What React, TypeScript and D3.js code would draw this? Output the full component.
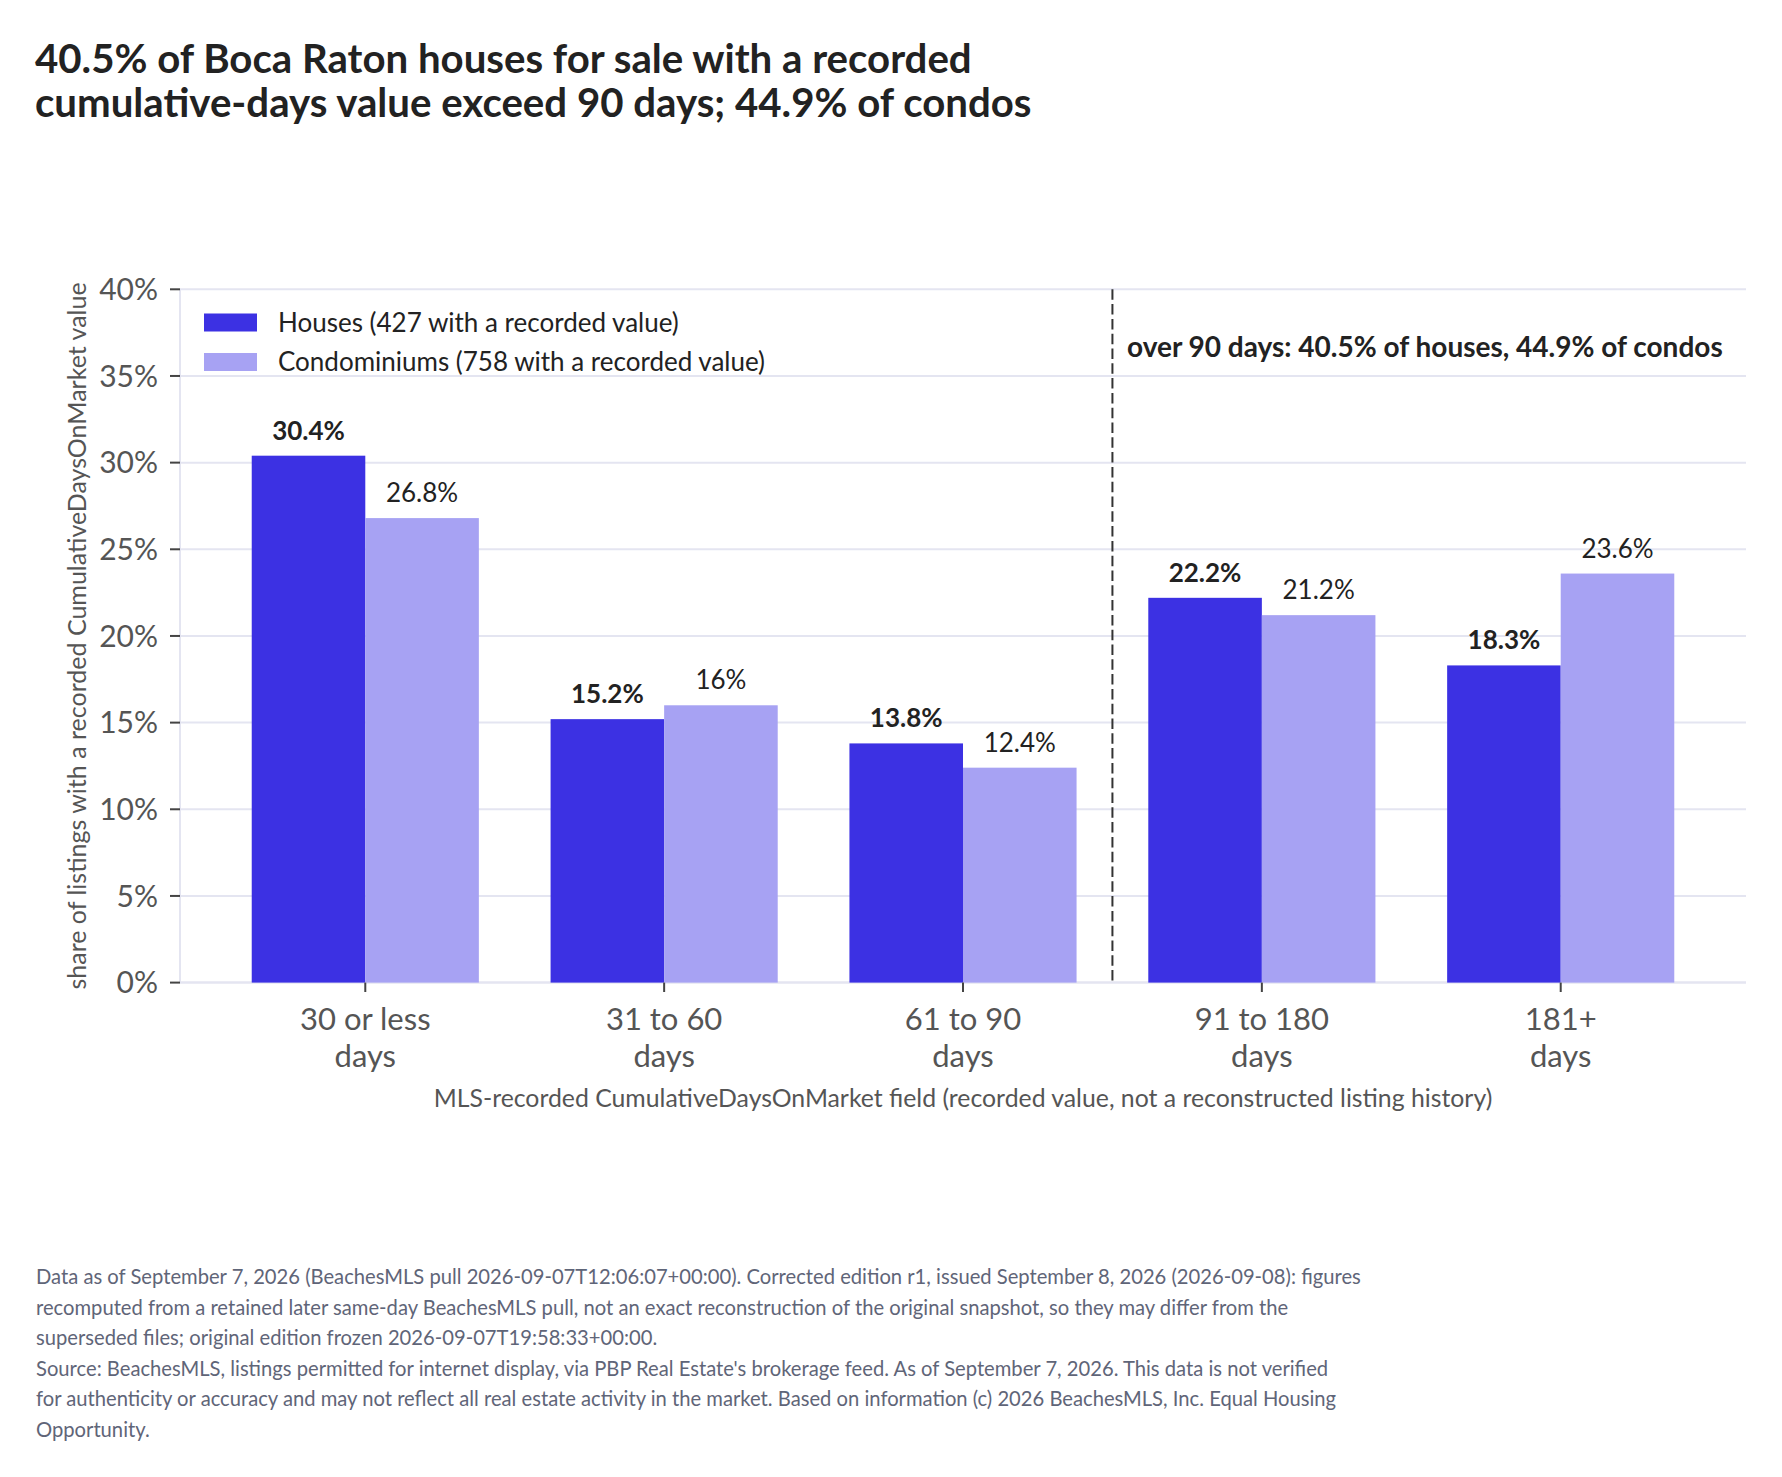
import React from "react";
import * as d3 from "d3";

const categories = ["30 or less\ndays", "31 to 60\ndays", "61 to 90\ndays", "91 to 180\ndays", "181+\ndays"];
const housesValues = [30.4, 15.2, 13.8, 22.2, 18.3];
const condosValues = [26.8, 16.0, 12.4, 21.2, 23.6];
const housesLabels = ["30.4%", "15.2%", "13.8%", "22.2%", "18.3%"];
const condosLabels = ["26.8%", "16%", "12.4%", "21.2%", "23.6%"];
const yTicks = [0, 5, 10, 15, 20, 25, 30, 35, 40];
const seriesNames = ["Houses (427 with a recorded value)", "Condominiums (758 with a recorded value)"];
const titleLines = [
  "40.5% of Boca Raton houses for sale with a recorded",
  "cumulative-days value exceed 90 days; 44.9% of condos",
];
const annotationText = "over 90 days: 40.5% of houses, 44.9% of condos";
const xAxisTitle = "MLS-recorded CumulativeDaysOnMarket field (recorded value, not a reconstructed listing history)";
const yAxisTitle = "share of listings with a recorded CumulativeDaysOnMarket value";
const footerLines = [
  "Data as of September 7, 2026 (BeachesMLS pull 2026-09-07T12:06:07+00:00). Corrected edition r1, issued September 8, 2026 (2026-09-08): figures",
  "recomputed from a retained later same-day BeachesMLS pull, not an exact reconstruction of the original snapshot, so they may differ from the",
  "superseded files; original edition frozen 2026-09-07T19:58:33+00:00.",
  "Source: BeachesMLS, listings permitted for internet display, via PBP Real Estate's brokerage feed. As of September 7, 2026. This data is not verified",
  "for authenticity or accuracy and may not reflect all real estate activity in the market. Based on information (c) 2026 BeachesMLS, Inc. Equal Housing",
  "Opportunity.",
];

const W = 1782;
const H = 1477;
const FONT = "Lato, 'Noto Sans', sans-serif";
const HOUSE = "#3c31e3";
const CONDO = "#a7a2f3";
const GRID = "#e4e5f1";

export default function App() {
  const left = 180;
  const right = 1746;
  const top = 289.3;
  const bottom = 982.6;
  const x = d3.scaleLinear().domain([-0.62, 4.62]).range([left, right]);
  const y = d3.scaleLinear().domain([0, 40]).range([bottom, top]);
  const step = x(1) - x(0);
  const barW = step * 0.38;
  const divider = (x(2) + x(3)) / 2;

  return (
    <svg width={W} height={H} viewBox={`0 0 ${W} ${H}`} style={{ display: "block", position: "absolute", left: 0, top: 0, background: "#fff" }} fontFamily={FONT}>
      <rect x={0} y={0} width={W} height={H} fill="#fff" />
      {/* title */}
      {titleLines.map((t, i) => (
        <text key={i} x={35} y={73 + i * 44} fontSize={40.2} fontWeight={700} fill="#222">{t}</text>
      ))}
      {/* grid */}
      {yTicks.map((t) => (
        <line key={t} x1={left} x2={right} y1={y(t)} y2={y(t)} stroke={GRID} strokeWidth={t === 0 ? 2.5 : 2} />
      ))}
      <line x1={left} x2={left} y1={top} y2={bottom} stroke={GRID} strokeWidth={2} />
      {/* y ticks */}
      {yTicks.map((t) => (
        <g key={t}>
          <line x1={170} x2={left} y1={y(t)} y2={y(t)} stroke="#444" strokeWidth={2} />
          <text x={158} y={y(t)} dy="0.36em" textAnchor="end" fontSize={30} fill="#555">{`${t}%`}</text>
        </g>
      ))}
      {/* bars */}
      {categories.map((c, i) => (
        <g key={c}>
          <rect x={x(i) - barW} y={y(housesValues[i])} width={barW} height={y(0) - y(housesValues[i])} fill={HOUSE} />
          <rect x={x(i)} y={y(condosValues[i])} width={barW} height={y(0) - y(condosValues[i])} fill={CONDO} />
          <text x={x(i) - barW / 2} y={y(housesValues[i]) - 16} textAnchor="middle" fontSize={26} fontWeight={700} fill="#222">{housesLabels[i]}</text>
          <text x={x(i) + barW / 2} y={y(condosValues[i]) - 16} textAnchor="middle" fontSize={26} fill="#222">{condosLabels[i]}</text>
        </g>
      ))}
      {/* x ticks */}
      {categories.map((c, i) => (
        <g key={c}>
          <line x1={x(i)} x2={x(i)} y1={bottom} y2={992} stroke="#444" strokeWidth={2} />
          {c.split("\n").map((l, j) => (
            <text key={j} x={x(i)} y={1030 + j * 36.5} textAnchor="middle" fontSize={31} fill="#555">{l}</text>
          ))}
        </g>
      ))}
      {/* divider */}
      <line x1={divider} x2={divider} y1={top} y2={bottom} stroke="#333" strokeWidth={2} strokeDasharray="10.5,4.3" />
      <text x={1127} y={357} fontSize={28} fontWeight={700} fill="#222">{annotationText}</text>
      {/* legend */}
      {seriesNames.map((n, i) => (
        <g key={n}>
          <rect x={204} y={313.5 + i * 39.5} width={53} height={18} fill={i === 0 ? HOUSE : CONDO} />
          <text x={278} y={322.5 + i * 39.5} dy="0.36em" fontSize={26} fill="#222">{n}</text>
        </g>
      ))}
      {/* axis titles */}
      <text x={(left + right) / 2} y={1106.5} textAnchor="middle" fontSize={24.8} fill="#555">{xAxisTitle}</text>
      <text transform={`translate(77,${(top + bottom) / 2}) rotate(-90)`} dy="0.36em" textAnchor="middle" fontSize={25} fill="#555">{yAxisTitle}</text>
      {/* footer */}
      {footerLines.map((l, i) => (
        <text key={i} x={36} y={1284 + i * 30.6} fontSize={20.2} fill="#5f6578">{l}</text>
      ))}
    </svg>
  );
}
